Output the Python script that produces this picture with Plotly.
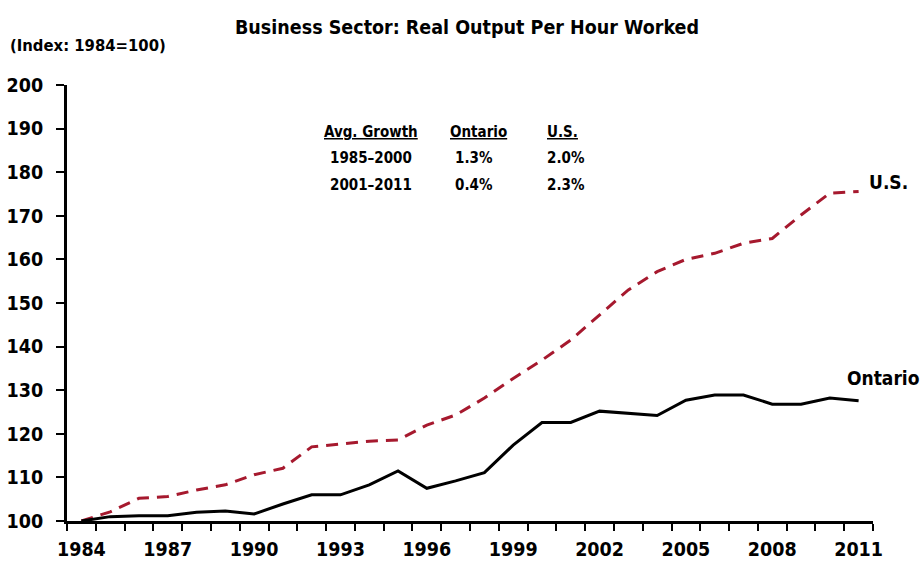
import plotly.graph_objects as go

years = list(range(1984, 2012))
ontario = [100.0, 101.0, 101.2, 101.2, 102.0, 102.3, 101.6, 103.9, 106.0, 106.0,
           108.3, 111.5, 107.5, 109.2, 111.1, 117.4, 122.6, 122.6, 125.2, 124.7,
           124.2, 127.7, 128.9, 128.9, 126.8, 126.8, 128.2, 127.6]
us = [100.0, 102.1, 105.2, 105.6, 107.1, 108.3, 110.6, 112.1, 117.0, 117.6,
      118.3, 118.6, 122.0, 124.3, 128.2, 132.7, 136.9, 141.5, 147.2, 153.0,
      157.2, 160.0, 161.4, 163.7, 164.8, 170.2, 175.2, 175.6]
tick_years = list(range(1984, 2012, 3))
y_ticks = list(range(100, 201, 10))

table_header = ["Avg. Growth", "Ontario", "U.S."]
table_periods = ["1985\u20132000", "2001\u20132011"]
table_ontario = ["1.3%", "0.4%"]
table_us = ["2.0%", "2.3%"]

FONT = "DejaVu Sans Condensed, Liberation Sans Narrow, Arial Narrow, sans-serif"
RED = "#A6192E"

fig = go.Figure()
fig.add_trace(go.Scatter(x=years, y=us, mode="lines", name="U.S.",
                         line=dict(color=RED, width=3, dash="12px,8px")))
fig.add_trace(go.Scatter(x=years, y=ontario, mode="lines", name="Ontario",
                         line=dict(color="black", width=3)))

fig.update_layout(
    width=920, height=563,
    margin=dict(l=67, r=47, t=85, b=42),
    paper_bgcolor="white", plot_bgcolor="white",
    showlegend=False,
    font=dict(family=FONT, size=19, color="black"),
    xaxis=dict(range=[1983.5, 2011.5], tickmode="array", tickvals=tick_years,
               ticktext=[f"<b>{y}</b>" for y in tick_years],
               ticks="", showgrid=False, zeroline=False, automargin=False,
               showline=True, linecolor="black", linewidth=3,
               tickfont=dict(size=19.5), ticklabelstandoff=9,
               minor=dict(tickmode="linear", tick0=1983.5, dtick=1, ticks="outside",
                          ticklen=7, tickwidth=2, tickcolor="black", showgrid=False)),
    yaxis=dict(range=[100, 200], tickmode="array", tickvals=y_ticks,
               ticktext=[f"<b>{v}</b>" for v in y_ticks],
               ticks="outside", ticklen=8, tickwidth=2, tickcolor="black",
               showgrid=False, zeroline=False, automargin=False,
               showline=True, linecolor="black", linewidth=3,
               tickfont=dict(size=19.5), ticklabelstandoff=9),
)

def ann(text, x, y, size=17, xanchor="center"):
    fig.add_annotation(text=text, x=x, y=y, xref="paper", yref="paper",
                       showarrow=False, xanchor=xanchor, yanchor="middle",
                       font=dict(family=FONT, size=size, color="black"))

def px_x(p):
    return (p - 67) / 806.0

def px_y(p):
    return (521 - p) / 436.0

ann("<b>Business Sector: Real Output Per Hour Worked</b>", px_x(467), px_y(27), size=19.5)
ann("<b>(Index: 1984=100)</b>", px_x(8), px_y(45), size=16.5, xanchor="left")

col_x = [371, 478, 562]
for cx, h in zip(col_x, table_header):
    ann(f"<b><u>{h}</u></b>", px_x(cx), px_y(132), size=15)
for i, yy in enumerate([158, 185]):
    ann(f"<b>{table_periods[i]}</b>", px_x(371), px_y(yy), size=15)
    ann(f"<b>{table_ontario[i]}</b>", px_x(474), px_y(yy), size=15)
    ann(f"<b>{table_us[i]}</b>", px_x(566), px_y(yy), size=15)

ann("<b>U.S.</b>", px_x(867), px_y(182), size=19, xanchor="left")
ann("<b>Ontario</b>", px_x(845), px_y(378), size=19, xanchor="left")

fig.write_html("out.html", config={"displayModeBar": False},
               post_script="document.body.style.margin='0';document.body.style.padding='0';")
